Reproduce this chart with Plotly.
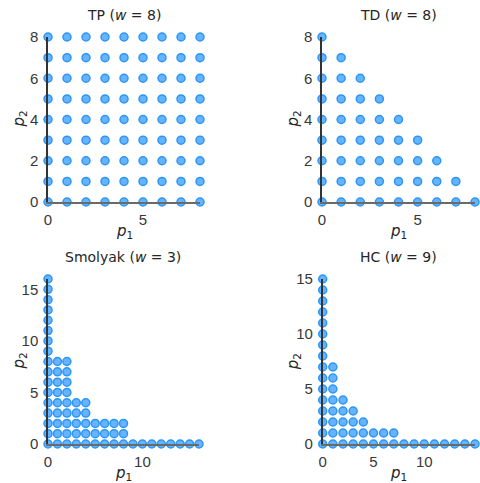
import plotly.graph_objects as go

# Largest p2 kept for each p1 in every multi-index set
tp_heights = [8, 8, 8, 8, 8, 8, 8, 8, 8]
td_heights = [8, 7, 6, 5, 4, 3, 2, 1, 0]
smolyak_heights = [16, 8, 8, 4, 4, 2, 2, 2, 2, 0, 0, 0, 0, 0, 0, 0, 0]
hc_heights = [15, 7, 4, 3, 2, 1, 1, 1, 0, 0, 0, 0, 0, 0, 0, 0]

titles = ["TP (<i>w</i> = 8)", "TD (<i>w</i> = 8)",
          "Smolyak (<i>w</i> = 3)", "HC (<i>w</i> = 9)"]
x_ticks = [[0, 5], [0, 5], [0, 10], [0, 5, 10, 15]]
y_ticks = [[0, 2, 4, 6, 8], [0, 2, 4, 6, 8], [0, 5, 10, 15], [0, 5, 10, 15]]

W, H = 480, 483
# pixel boxes of each panel: left, right, top, bottom
boxes = [(48, 200, 37, 202), (322, 475, 37, 202),
         (48, 199, 279, 444), (322.7, 475, 279, 444)]

TICK_FONT = "Liberation Sans"
TEXT_FONT = "DejaVu Sans"
TXT = "#262626"

def points(heights):
    xs, ys = [], []
    for p1, top in enumerate(heights):
        for p2 in range(top + 1):
            xs.append(p1)
            ys.append(p2)
    return xs, ys

fig = go.Figure()
sets = [tp_heights, td_heights, smolyak_heights, hc_heights]
annotations = []
for k, heights in enumerate(sets):
    xs, ys = points(heights)
    sfx = "" if k == 0 else str(k + 1)
    fig.add_trace(go.Scatter(
        x=xs, y=ys, mode="markers", cliponaxis=False, showlegend=False,
        xaxis="x" + sfx, yaxis="y" + sfx,
        marker=dict(size=8, color="#66b3ff",
                    line=dict(color="#2c96f7", width=1.5)),
    ))
    l, r, t, b = boxes[k]
    xmax = len(heights) - 1
    ymax = max(heights)
    common = dict(showgrid=False, zeroline=False, showline=True, ticks="",
                  automargin=False,
                  tickfont=dict(family=TICK_FONT, size=15, color="#383838"))
    fig.layout["xaxis" + sfx] = dict(
        common, domain=[l / W, r / W], range=[0, xmax],
        anchor="y" + sfx, tickvals=x_ticks[k], linecolor="#6a6a6a",
        linewidth=1.5, ticklabelstandoff=3,
    )
    fig.layout["yaxis" + sfx] = dict(
        common, domain=[(H - b) / H, (H - t) / H], range=[0, ymax],
        anchor="x" + sfx, tickvals=y_ticks[k], linecolor="#333",
        linewidth=1.5, ticklabelstandoff=5,
    )
    cx = (l + r) / 2 / W
    annotations.append(dict(
        text=titles[k], x=cx, y=1 - (t - 22) / H, xref="paper", yref="paper",
        showarrow=False, xanchor="center", yanchor="middle",
        font=dict(family=TEXT_FONT, size=14, color=TXT),
    ))
    annotations.append(dict(
        text="<i>p</i><sub>1</sub>", x=cx, y=1 - (b + 29) / H,
        xref="paper", yref="paper", showarrow=False,
        xanchor="center", yanchor="middle",
        font=dict(family=TEXT_FONT, size=15, color=TXT),
    ))
    annotations.append(dict(
        text="<i>p</i><sub>2</sub>", x=(l - 29) / W, y=1 - (t + b) / 2 / H,
        xref="paper", yref="paper", showarrow=False, textangle=-90,
        xanchor="center", yanchor="middle",
        font=dict(family=TEXT_FONT, size=15, color=TXT),
    ))

fig.update_layout(
    width=W, height=H, margin=dict(l=0, r=0, t=0, b=0),
    paper_bgcolor="white", plot_bgcolor="white",
    annotations=annotations,
)

fig.write_html("out.html")
